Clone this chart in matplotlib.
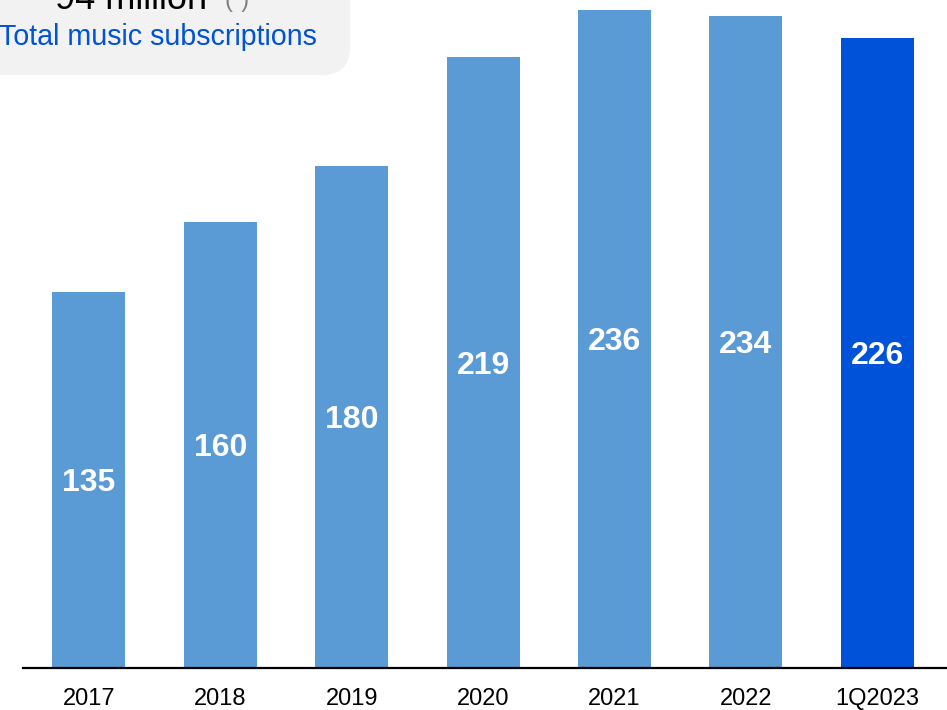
import matplotlib
matplotlib.use("Agg")
import matplotlib.pyplot as plt
from matplotlib.patches import FancyBboxPatch
from matplotlib.transforms import IdentityTransform

plt.rcParams['font.family'] = ['Liberation Sans', 'DejaVu Sans']

# subscriptions (millions) per period
periods = ['2017', '2018', '2019', '2020', '2021', '2022', '1Q2023']
subs = [135, 160, 180, 219, 236, 234, 226]
bar_colors = ['#5B9BD5'] * 6 + ['#0052D9']

fig = plt.figure(figsize=(9.47, 7.10), dpi=100)
ax = fig.add_axes([23 / 947, 1 - 668 / 710, 1 - 23 / 947, 668 / 710])

x = list(range(len(periods)))
bars = ax.bar(x, subs, width=0.556, color=bar_colors)
for b, v in zip(bars, subs):
    # baseline sits ~11px below the bar middle so the digits look centred
    ax.text(b.get_x() + b.get_width() / 2, v / 2 - 4.0, str(v), ha='center',
            va='baseline', color='white', fontsize=23, fontweight='bold')

ax.set_xlim(-0.502, 6.53)
ax.set_ylim(0, 668 / 2.788)
ax.set_xticks(x)
ax.set_xticklabels(periods, fontsize=17)
ax.tick_params(axis='x', length=0, pad=14.5)
ax.set_yticks([])
for s in ['top', 'right', 'left']:
    ax.spines[s].set_visible(False)
ax.spines['bottom'].set_linewidth(1.6)
ax.spines['bottom'].set_color('black')
ax.patch.set_alpha(0)

# header box in the top-left corner (pixel coordinates)
box = FancyBboxPatch((-60, 710 - 75), 410, 200,
                     boxstyle="round,pad=0,rounding_size=28",
                     transform=IdentityTransform(), facecolor='#F2F2F2',
                     edgecolor='none', zorder=0)
fig.patches.append(box)
fig.text(55, 710 - 9, '94 million', transform=IdentityTransform(), fontsize=26,
         color='black', ha='left', va='baseline')
fig.text(224, 710 - 7, '(*)', transform=IdentityTransform(), fontsize=17,
         color='#7F7F7F', ha='left', va='baseline')
fig.text(317, 710 - 45, 'Total music subscriptions', transform=IdentityTransform(),
         fontsize=20.6, color='#0052D9', ha='right', va='baseline')

fig.savefig('out.png', dpi=100)
